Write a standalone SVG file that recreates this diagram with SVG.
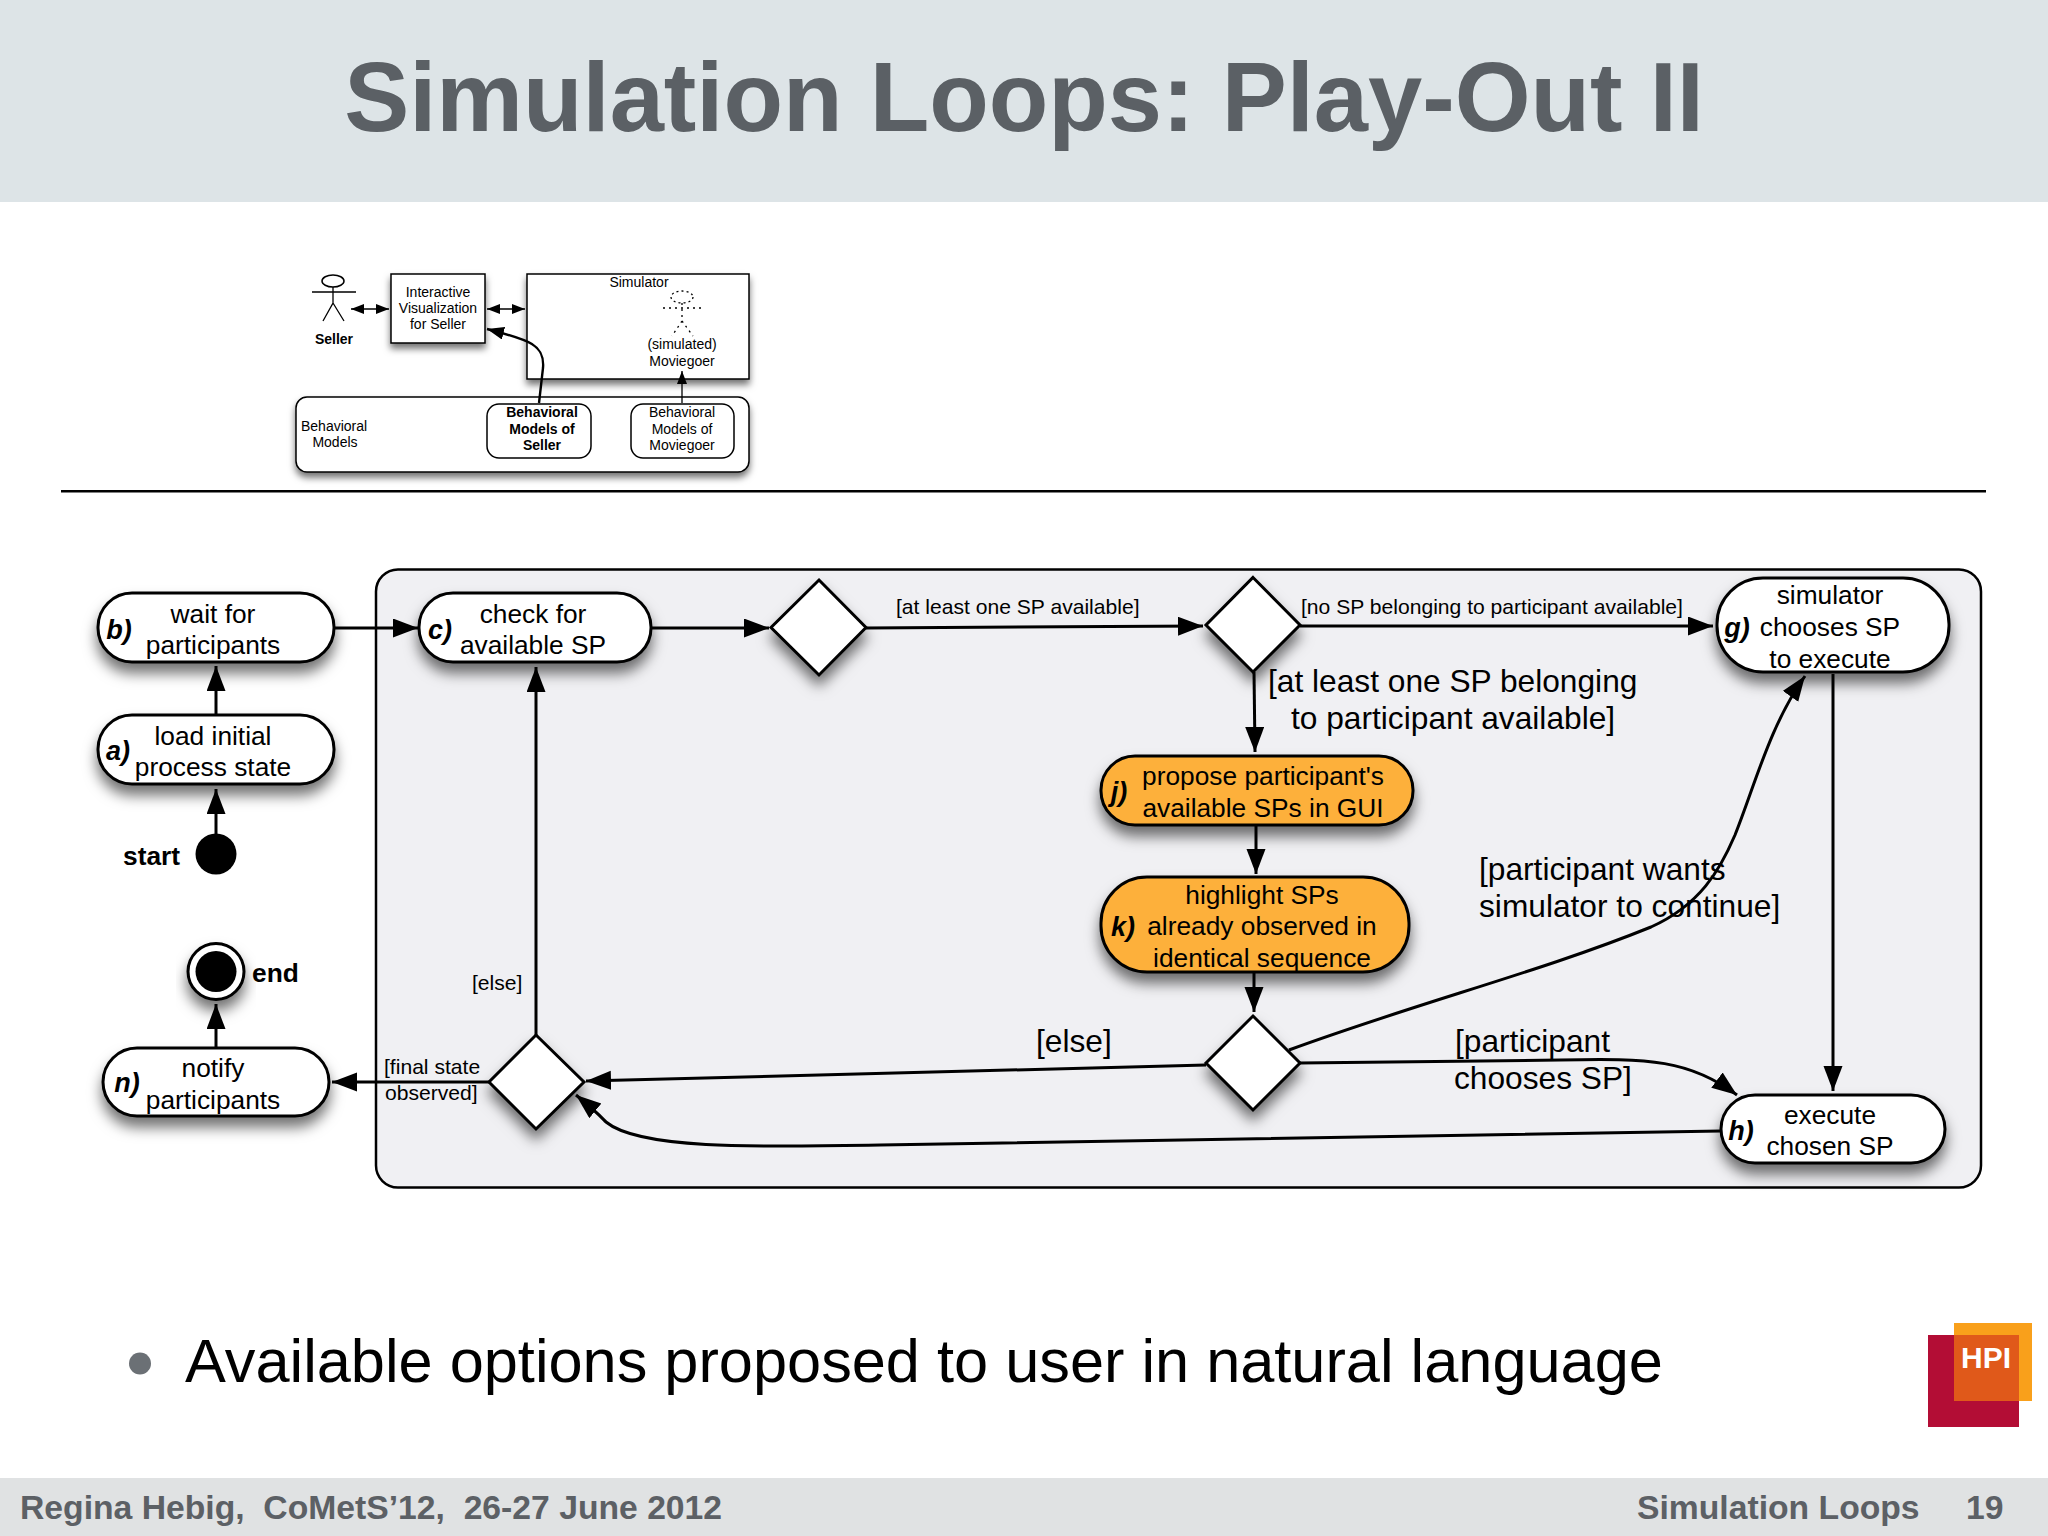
<svg xmlns="http://www.w3.org/2000/svg" width="2048" height="1536" viewBox="0 0 2048 1536">
<style>
text{font-family:"Liberation Sans",Arial,sans-serif;fill:#000}
.n{font-size:26.3px;text-anchor:middle}
.l{font-size:27px;font-weight:bold;font-style:italic;text-anchor:middle}
.g{font-size:21.1px}
.b{font-size:31.7px}
.s{font-size:14px;text-anchor:middle}
.sb{font-size:14px;font-weight:bold;text-anchor:middle}
.w{fill:#fff;stroke:#000;stroke-width:3;filter:url(#sh)}
.o{fill:#fdb03b;stroke:#000;stroke-width:3;filter:url(#sh)}
.c{fill:none;stroke:#000;stroke-width:3}
.a{marker-end:url(#ah)}
.sw{fill:#fff;stroke:#000;stroke-width:1.5}
.sc{fill:none;stroke:#000;stroke-width:1.3}
.foot{font-size:33.7px;font-weight:bold;fill:#5c6065;white-space:pre}
</style>
<defs>
<marker id="ah" markerUnits="userSpaceOnUse" markerWidth="26" markerHeight="20" refX="25" refY="9.5" orient="auto"><path d="M0 0L25 9.5L0 19z" fill="#000"/></marker>
<marker id="sa" markerUnits="userSpaceOnUse" markerWidth="14" markerHeight="10" refX="13" refY="5" orient="auto-start-reverse"><path d="M0 0L13 5L0 10z" fill="#000"/></marker>
<marker id="sb" markerUnits="userSpaceOnUse" markerWidth="18" markerHeight="13" refX="17" refY="6.5" orient="auto"><path d="M0 0L17 6.5L0 13z" fill="#000"/></marker>
<filter id="sh" x="-20%" y="-20%" width="140%" height="170%"><feDropShadow dx="0" dy="10" stdDeviation="7" flood-color="#000" flood-opacity="0.55"/></filter>
<filter id="ss" x="-10%" y="-20%" width="120%" height="150%"><feDropShadow dx="0" dy="5" stdDeviation="3.5" flood-color="#000" flood-opacity="0.55"/></filter>
</defs>
<rect width="2048" height="1536" fill="#fff"/>
<rect id="header" width="2048" height="202" fill="#dde4e7"/>
<text id="title" x="1024" y="131" text-anchor="middle" style="font-size:97.5px;font-weight:bold;fill:#5b6065">Simulation Loops: Play-Out II</text>

<g id="overview">
<g id="seller"><ellipse class="sw" cx="333" cy="281" rx="11" ry="6"/><path class="sc" d="M312 292H356M333 287V303L323 321M333 303L344 321"/><text class="sb" x="334" y="344">Seller</text></g>
<g id="viz"><rect class="sw" style="filter:url(#ss)" x="391" y="274" width="94" height="69"/><text class="s" x="438" y="297">Interactive</text><text class="s" x="438" y="313">Visualization</text><text class="s" x="438" y="329">for Seller</text></g>
<g id="simulator"><rect class="sw" style="filter:url(#ss)" x="527" y="274" width="222" height="105"/><text class="s" x="639" y="287">Simulator</text>
<ellipse cx="682" cy="297" rx="11" ry="6" fill="none" stroke="#000" stroke-width="1.3" stroke-dasharray="2 3"/><path d="M663 308H704M682 303V321L672 336M682 321L693 336" fill="none" stroke="#000" stroke-width="1.3" stroke-dasharray="2 4"/>
<text class="s" x="682" y="349">(simulated)</text><text class="s" x="682" y="366">Moviegoer</text></g>
<g id="models"><rect class="sw" style="filter:url(#ss)" x="296" y="397" width="453" height="75" rx="11"/><text style="font-size:14px" x="301" y="431">Behavioral</text><text class="s" x="335" y="447">Models</text></g>
<g id="sellermodel"><rect class="sw" x="487" y="404" width="104" height="54" rx="12"/><text class="sb" x="542" y="417">Behavioral</text><text class="sb" x="542" y="434">Models of</text><text class="sb" x="542" y="450">Seller</text></g>
<g id="moviegoermodel"><rect class="sw" x="631" y="404" width="103" height="54" rx="12"/><text class="s" x="682" y="417">Behavioral</text><text class="s" x="682" y="434">Models of</text><text class="s" x="682" y="450">Moviegoer</text></g>
<g id="overview-connectors">
<path class="sc" marker-start="url(#sa)" marker-end="url(#sa)" d="M351 309H389"/>
<path class="sc" marker-start="url(#sa)" marker-end="url(#sa)" d="M487 309H525"/>
<path class="sc" style="stroke-width:2.4" marker-end="url(#sb)" d="M539 403L543 368C545 345 530 340 487 329"/>
<path class="sc" marker-end="url(#sa)" d="M682 403V371"/>
</g>
</g>
<rect id="separator" x="61" y="490" width="1925" height="2.5" fill="#000"/>

<rect id="container" x="376" y="569.5" width="1605" height="618" rx="22" fill="#f0f0f3" stroke="#000" stroke-width="2.5"/>

<g id="connectors">
<path class="c a" d="M334 628H418"/>
<path class="c a" d="M651 628H769"/>
<path class="c a" d="M216 714V666"/>
<path class="c a" d="M216 834V789"/>
<path class="c a" d="M216 1047V1004"/>
<path class="c a" d="M489 1082H332"/>
<path class="c a" d="M536 1035V667"/>
<path class="c a" d="M866 628L1203 626"/>
<path class="c a" d="M1300 626H1713"/>
<path class="c a" d="M1254 672L1255 752"/>
<path class="c a" d="M1256 825V874"/>
<path class="c a" d="M1254 972V1012"/>
<path class="c a" d="M1833 674V1091"/>
<path class="c a" d="M1206 1065L586 1081"/>
<path class="c a" d="M1721 1131L880 1145C760 1147 640 1150 606 1122C602 1118 598 1113 576 1095"/>
<path class="c a" d="M1300 1063L1560 1060C1650 1058 1690 1060 1737 1095"/>
<path class="c a" d="M1289 1050C1420 1002 1540 972 1651 927C1700 905 1720 870 1735 835C1755 785 1770 725 1805 676"/>
</g>

<g id="edge-labels">
<text class="g" x="896" y="614">[at least one SP available]</text>
<text class="g" x="1301" y="614">[no SP belonging to participant available]</text>
<text class="b" x="1268" y="692">[at least one SP belonging</text>
<text class="b" x="1291" y="729">to participant available]</text>
<text class="b" x="1479" y="880">[participant wants</text>
<text class="b" x="1479" y="917">simulator to continue]</text>
<text class="b" x="1455" y="1052">[participant</text>
<text class="b" x="1454" y="1089">chooses SP]</text>
<text class="b" x="1036" y="1052">[else]</text>
<text class="g" x="472" y="990">[else]</text>
<text class="g" x="384" y="1074">[final state</text>
<text class="g" x="385" y="1100">observed]</text>
</g>

<g id="node-b"><rect class="w" x="98" y="593" width="236" height="69" rx="34"/><text class="l" x="119" y="639">b)</text><text class="n" x="213" y="623">wait for</text><text class="n" x="213" y="654">participants</text></g>
<g id="node-a"><rect class="w" x="98" y="715" width="236" height="69" rx="34"/><text class="l" x="118" y="760">a)</text><text class="n" x="213" y="745">load initial</text><text class="n" x="213" y="776">process state</text></g>
<g id="node-c"><rect class="w" x="419" y="593" width="232" height="69" rx="34"/><text class="l" x="440" y="639">c)</text><text class="n" x="533" y="623">check for</text><text class="n" x="533" y="654">available SP</text></g>
<g id="node-n"><rect class="w" x="103" y="1048" width="226" height="68" rx="34"/><text class="l" x="127" y="1092">n)</text><text class="n" x="213" y="1077">notify</text><text class="n" x="213" y="1109">participants</text></g>
<g id="node-g"><rect class="w" x="1717" y="578" width="232" height="94" rx="46"/><text class="l" x="1737" y="637">g)</text><text class="n" x="1830" y="604">simulator</text><text class="n" x="1830" y="636">chooses SP</text><text class="n" x="1830" y="668">to execute</text></g>
<g id="node-h"><rect class="w" x="1721" y="1095" width="224" height="68" rx="34"/><text class="l" x="1741" y="1140">h)</text><text class="n" x="1830" y="1124">execute</text><text class="n" x="1830" y="1155">chosen SP</text></g>
<g id="node-j"><rect class="o" x="1101" y="756" width="312" height="69" rx="34"/><text class="l" x="1119" y="801">j)</text><text class="n" x="1263" y="785">propose participant's</text><text class="n" x="1263" y="817">available SPs in GUI</text></g>
<g id="node-k"><rect class="o" x="1101" y="877" width="308" height="95" rx="46"/><text class="l" x="1123" y="936">k)</text><text class="n" x="1262" y="904">highlight SPs</text><text class="n" x="1262" y="935">already observed in</text><text class="n" x="1262" y="967">identical sequence</text></g>
<g id="d1"><path class="w" d="M819 580L866 627.5L819 675L771 627.5Z"/></g>
<g id="d2"><path class="w" d="M1253 577.5L1300 625L1253 672L1206 625Z"/></g>
<g id="d3"><path class="w" d="M1253 1016L1300 1063L1253 1110L1206 1063Z"/></g>
<g id="d4"><path class="w" d="M536 1035L584 1082L536 1129L489 1082Z"/></g>
<g id="start"><circle cx="216" cy="854" r="20.5" fill="#000"/><text x="123" y="865" style="font-size:26.3px;font-weight:bold">start</text></g>
<g id="end"><circle class="w" cx="216" cy="971.5" r="28"/><circle cx="216" cy="971.5" r="20.5" fill="#000"/><text x="252" y="982" style="font-size:26.3px;font-weight:bold">end</text></g>

<circle id="bullet" cx="140" cy="1363.5" r="11" fill="#6b7075"/>
<text id="bullet-text" x="185" y="1382" style="font-size:61.3px">Available options proposed to user in natural language</text>

<g id="logo"><rect x="1928" y="1335" width="91" height="92" fill="#b30d35"/><rect x="1954" y="1323" width="78" height="78" fill="#f9a01b"/><rect x="1954" y="1335" width="65" height="66" fill="#e0591a"/><text x="1986" y="1368" text-anchor="middle" style="font-size:30px;font-weight:bold;fill:#fff">HPI</text></g>

<rect id="footer" y="1478" width="2048" height="58" fill="#e0e2e3"/>
<text class="foot" x="20" y="1519">Regina Hebig,  CoMetS’12,  26-27 June 2012</text>
<text class="foot" x="1637" y="1519">Simulation Loops</text>
<text class="foot" x="1966" y="1519">19</text>
</svg>
